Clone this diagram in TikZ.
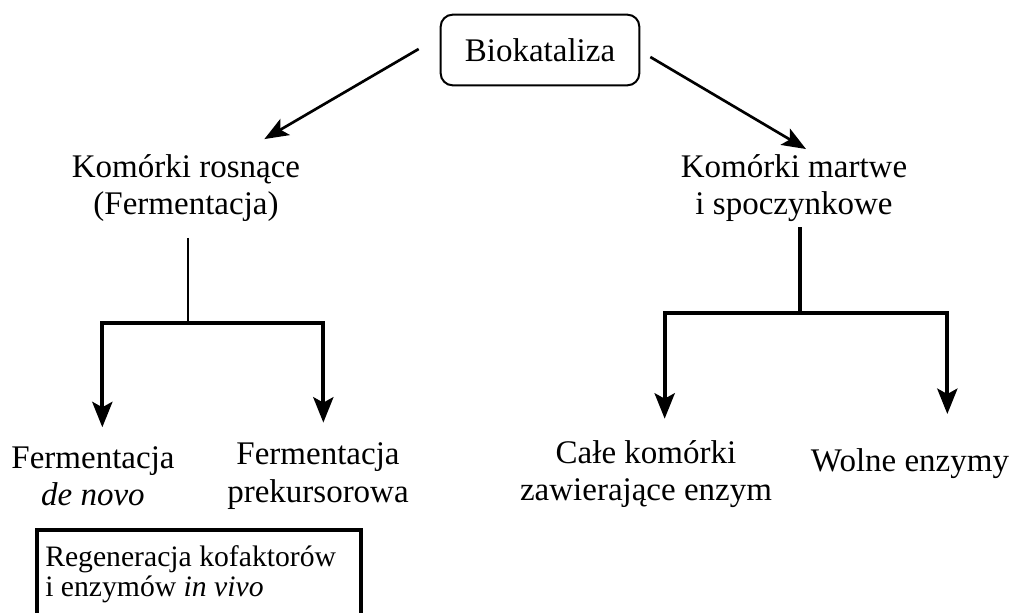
\documentclass[tikz,border=0pt]{standalone}
\usepackage{fontspec}
\setmainfont{Liberation Serif}
\usetikzlibrary{arrows.meta}

\begin{document}
\begin{tikzpicture}[x=0.75pt,y=0.75pt]
	\tikzstyle{every node}+=[inner sep=0pt, align=center, font=\fontsize{24.75}{28}\selectfont]
	\tikzstyle{thinarr}=[line width=2pt, -{Stealth[length=18pt,width=14pt,inset=4pt]}]
	\tikzstyle{stem}=[line width=1.6pt]
	\tikzstyle{bar}=[line width=3.2pt]
	\tikzstyle{bararr}=[bar, -{Stealth[length=19pt,width=15pt,inset=4pt]}]
	\useasboundingbox (0,0) rectangle (1020,-613);
	% top
	\node [draw, line width=1.5pt, rounded corners=9pt, minimum width=149pt, minimum height=53pt] (bio) at (540,-50) {Biokataliza};
	\node (rosn) at (186,-188) {Komórki rosnące\\(Fermentacja)};
	\node (martwe) at (794,-188) {Komórki martwe\\i spoczynkowe};
	\draw [thinarr] ([shift={(-21,1)}]bio.west) -- ([shift={(-36,15)}]rosn.north east);
	\draw [thinarr] ([shift={(10,-7)}]bio.east) -- ([shift={(12,5)}]martwe.north);
	% bottom
	\node (novo) at (93,-476) {Fermentacja\\\textit{de novo}};
	\node (prek) at (318,-476) {Fermentacja\\prekursorowa};
	\node (cale) at (646,-474) {Całe komórki\\zawierające enzym};
	\node (wolne) at (910,-464) {Wolne enzymy};
	\node [anchor=north west, align=left, font=\fontsize{22.25}{23}\selectfont] (regen) at (45,-545) {Regeneracja kofaktorów\\i enzymów \textit{in vivo}};
	\draw [line width=3pt] ([shift={(-8,15)}]regen.north west) rectangle ([shift={(25,-40)}]regen.south east);
	% left tree
	\coordinate (splitL) at (188,-323);
	\draw [stem, shorten <=12pt] (splitL |- rosn.south) -- (splitL);
	\draw [bararr, shorten >=14pt] (splitL) -| ([xshift=7]novo.north);
	\draw [bararr, shorten >=15pt] (splitL) -| ([xshift=4]prek.north);
	% right tree
	\coordinate (splitR) at (800,-313);
	\draw [bar, shorten <=4pt] (splitR |- martwe.south) -- (splitR);
	\draw [bararr, shorten >=16pt] (splitR) -| ([xshift=14]cale.north);
	\draw [bararr, shorten >=26pt] (splitR) -| ([xshift=28]wolne.north);
\end{tikzpicture}
\end{document}
